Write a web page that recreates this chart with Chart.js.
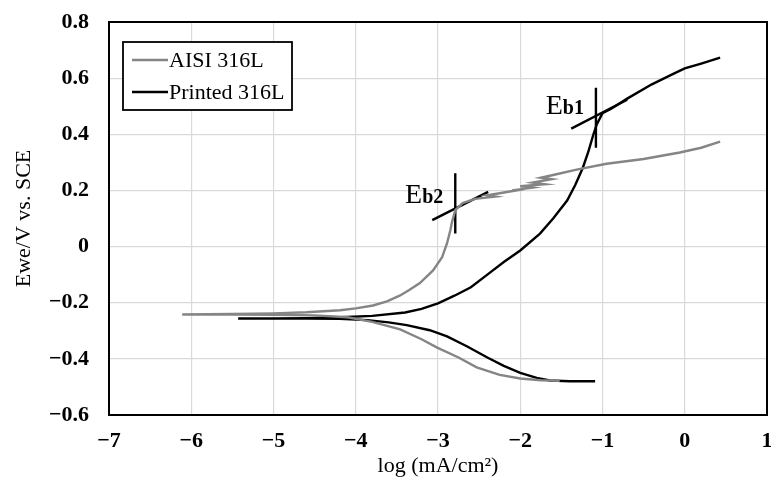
<!DOCTYPE html>
<html>
<head>
<meta charset="utf-8">
<script src="https://cdn.jsdelivr.net/npm/chart.js@4.4.0/dist/chart.umd.min.js"></script>
<style>
  html, body { margin: 0; padding: 0; background: #fff; }
  #wrap { width: 771px; height: 479px; }
</style>
</head>
<body>
<div id="wrap"><canvas id="chart" width="771" height="479"></canvas></div>
<script>
// tick labels
const xTicks = [-7, -6, -5, -4, -3, -2, -1, 0, 1];
const yTicks = [-0.6, -0.4, -0.2, 0, 0.2, 0.4, 0.6, 0.8];

// AISI 316L (gray): anodic branch from the end back to Ecorr, then cathodic branch
const aisiX = [0.43, 0.2, -0.06, -0.5, -0.95, -1.3, -1.6, -1.75, -1.62, -1.85, -1.7, -2.0, -1.85, -2.1, -1.95, -2.25, -2.4, -2.3, -2.55, -2.7, -2.79, -2.83, -2.85, -2.89, -2.95, -3.06, -3.22, -3.35, -3.46, -3.62, -3.79, -4.0, -4.19, -4.6, -5.0, -5.5, -6.11,
               -5.5, -5.0, -4.5, -4.1, -3.8, -3.46, -3.2, -3.01, -2.75, -2.53, -2.25, -2.0, -1.75, -1.52];
const aisiY = [0.374, 0.352, 0.335, 0.312, 0.295, 0.275, 0.255, 0.245, 0.24, 0.228, 0.222, 0.215, 0.21, 0.2, 0.205, 0.19, 0.183, 0.178, 0.17, 0.155, 0.13, 0.087, 0.058, 0.012, -0.038, -0.085, -0.13, -0.155, -0.174, -0.195, -0.21, -0.22, -0.227, -0.234, -0.238, -0.24, -0.242,
               -0.242, -0.243, -0.245, -0.252, -0.268, -0.295, -0.33, -0.36, -0.395, -0.43, -0.457, -0.47, -0.476, -0.478];

// Printed 316L (black)
const printedX = [0.43, 0.2, 0, -0.14, -0.4, -0.7, -0.9, -1.0, -1.07, -1.11, -1.17, -1.24, -1.33, -1.43, -1.6, -1.76, -2.0, -2.2, -2.4, -2.6, -2.8, -3.0, -3.2, -3.4, -3.8, -4.19, -4.6, -5.0, -5.43,
                  -5.0, -4.6, -4.2, -3.86, -3.6, -3.38, -3.1, -2.89, -2.65, -2.4, -2.2, -2.0, -1.8, -1.64, -1.4, -1.09];
const printedY = [0.673, 0.652, 0.635, 0.615, 0.578, 0.527, 0.49, 0.475, 0.435, 0.4, 0.34, 0.28, 0.22, 0.164, 0.1, 0.046, -0.014, -0.055, -0.1, -0.145, -0.175, -0.202, -0.222, -0.235, -0.247, -0.252, -0.255, -0.256, -0.256,
                  -0.256, -0.256, -0.257, -0.262, -0.27, -0.28, -0.298, -0.32, -0.355, -0.395, -0.425, -0.45, -0.468, -0.477, -0.48, -0.48];

// breakdown marker lines
const eb2Vert = [[-2.79, 0.261], [-2.79, 0.047]];
const eb2Tan = [[-3.07, 0.094], [-2.39, 0.195]];
const eb1Vert = [[-1.08, 0.566], [-1.08, 0.352]];
const eb1Tan = [[-1.38, 0.42], [-0.7, 0.523]];

const toPts = (xs, ys) => xs.map((x, i) => ({ x, y: ys[i] }));
const pairPts = p => p.map(([x, y]) => ({ x, y }));

const markerSet = pts => ({
  data: pairPts(pts), showLine: true, borderColor: '#000', borderWidth: 2.4,
  pointRadius: 0, fill: false, tension: 0, label: ''
});

const serif = '"Liberation Serif", "Times New Roman", serif';

const frameAndText = {
  id: 'frameAndText',
  afterDraw(chart) {
    const { ctx, chartArea: a, scales } = chart;
    ctx.save();
    // plot frame
    ctx.strokeStyle = '#000';
    ctx.lineWidth = 2;
    ctx.strokeRect(a.left, a.top, a.right - a.left, a.bottom - a.top);

    // legend box
    ctx.lineWidth = 1.8;
    ctx.fillStyle = '#fff';
    ctx.fillRect(123, 42, 169, 68);
    ctx.strokeRect(123, 42, 169, 68);
    ctx.font = '22px ' + serif;
    ctx.textBaseline = 'middle';
    ctx.fillStyle = '#000';
    ctx.lineWidth = 2.4;
    ctx.strokeStyle = '#858585';
    ctx.beginPath(); ctx.moveTo(132, 60); ctx.lineTo(168, 60); ctx.stroke();
    ctx.fillText('AISI 316L', 169, 61);
    ctx.strokeStyle = '#000';
    ctx.beginPath(); ctx.moveTo(132, 92); ctx.lineTo(168, 92); ctx.stroke();
    ctx.fillText('Printed 316L', 169, 93);

    // Eb labels
    const label = (x, y, sub) => {
      const px = scales.x.getPixelForValue(x);
      const py = scales.y.getPixelForValue(y);
      ctx.textBaseline = 'alphabetic';
      ctx.font = '28px ' + serif;
      ctx.fillText('E', px, py);
      const w = ctx.measureText('E').width;
      ctx.font = 'bold 20px ' + serif;
      ctx.fillText(sub, px + w, py);
    };
    label(-1.69, 0.474, 'b1');
    label(-3.40, 0.154, 'b2');
    ctx.restore();
  }
};

new Chart(document.getElementById('chart'), {
  type: 'scatter',
  data: {
    datasets: [
      { label: 'AISI 316L', data: toPts(aisiX, aisiY), showLine: true, borderColor: '#858585', borderWidth: 2.4, pointRadius: 0, tension: 0 },
      { label: 'Printed 316L', data: toPts(printedX, printedY), showLine: true, borderColor: '#000', borderWidth: 2.4, pointRadius: 0, tension: 0 },
      markerSet(eb2Vert), markerSet(eb2Tan), markerSet(eb1Vert), markerSet(eb1Tan)
    ]
  },
  options: {
    responsive: false,
    animation: false,
    layout: { padding: { top: 22, right: 4, left: 0, bottom: 0 } },
    plugins: { legend: { display: false }, tooltip: { enabled: false } },
    scales: {
      x: {
        type: 'linear', min: -7, max: 1,
        afterBuildTicks: s => { s.ticks = xTicks.map(v => ({ value: v })); },
        afterFit: s => { s.height = 64; s.paddingLeft = 0; s.paddingRight = 0; },
        grid: { color: '#d9d9d9', lineWidth: 1.2, drawTicks: false },
        border: { display: false },
        ticks: {
          padding: 13, color: '#000',
          font: { family: serif, size: 22, weight: 'bold' },
          callback: v => String(v).replace('-', '\u2212')
        },
        title: { display: true, text: 'log (mA/cm\u00B2)', color: '#000', font: { family: serif, size: 22 }, padding: { top: 0, bottom: 0 } }
      },
      y: {
        type: 'linear', min: -0.6, max: 0.8,
        afterBuildTicks: s => { s.ticks = yTicks.map(v => ({ value: v })); },
        afterFit: s => { s.width = 109; s.paddingTop = 0; s.paddingBottom = 0; },
        grid: { color: '#d9d9d9', lineWidth: 1.2, drawTicks: false },
        border: { display: false },
        ticks: {
          padding: 20, color: '#000',
          font: { family: serif, size: 22, weight: 'bold' },
          callback: v => (v === 0 ? '0' : v.toFixed(1).replace('-', '\u2212'))
        },
        title: { display: true, text: 'Ewe/V vs. SCE', color: '#000', font: { family: serif, size: 22 }, padding: { top: 11, bottom: 0 } }
      }
    }
  },
  plugins: [frameAndText]
});
</script>
</body>
</html>
